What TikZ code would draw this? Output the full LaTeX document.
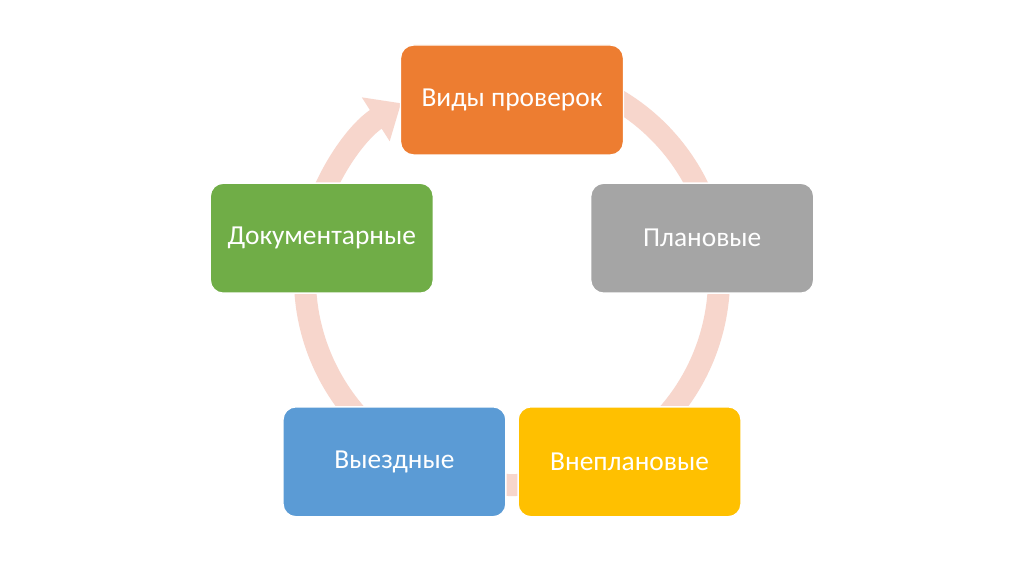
\documentclass[tikz,border=0pt]{standalone}
\usepackage{fontspec}
\setmainfont{Carlito}
\usetikzlibrary{arrows.meta}

\definecolor{cycpink}{RGB}{247,214,204}
\definecolor{boxorange}{RGB}{237,125,49}
\definecolor{boxgray}{RGB}{165,165,165}
\definecolor{boxyellow}{RGB}{255,192,0}
\definecolor{boxblue}{RGB}{91,155,213}
\definecolor{boxgreen}{RGB}{112,173,71}

\begin{document}
\begin{tikzpicture}[>=latex, font=\fontsize{7.8}{9}\selectfont,
  box/.style={draw=white, line width=0.4pt, rounded corners=0.13cm, minimum width=2.23cm, minimum height=1.10cm, text=white, inner sep=0pt}]

\useasboundingbox[fill=white] (0, 0) rectangle (10.24, 5.74);

\coordinate (c) at (5.12, 2.74); %centre of the boxes
\coordinate (ring) at (5.12, 2.96); %centre of the arrow

\draw[cycpink, line width=0.22cm, -{Triangle[width=0.5cm, length=0.3cm]}] ([shift={(75:2.07)}]ring) arc[start angle=75, end angle=-237.6, radius=2.07]; %circular arrow

\node[box, fill=boxorange] (vidy) at ([shift={(90:2)}]c) {Виды проверок}; %top
\node[box, fill=boxgray] (plan) at ([shift={(18:2)}]c) {Плановые}; %right
\node[box, fill=boxyellow] (vneplan) at ([shift={(-54:2)}]c) {Внеплановые}; %bottom right
\node[box, fill=boxblue] (vyezd) at ([shift={(-126:2)}]c) {Выездные}; %bottom left
\node[box, fill=boxgreen] (dokum) at ([shift={(162:2)}]c) {Документарные}; %left

\end{tikzpicture}
\end{document}
